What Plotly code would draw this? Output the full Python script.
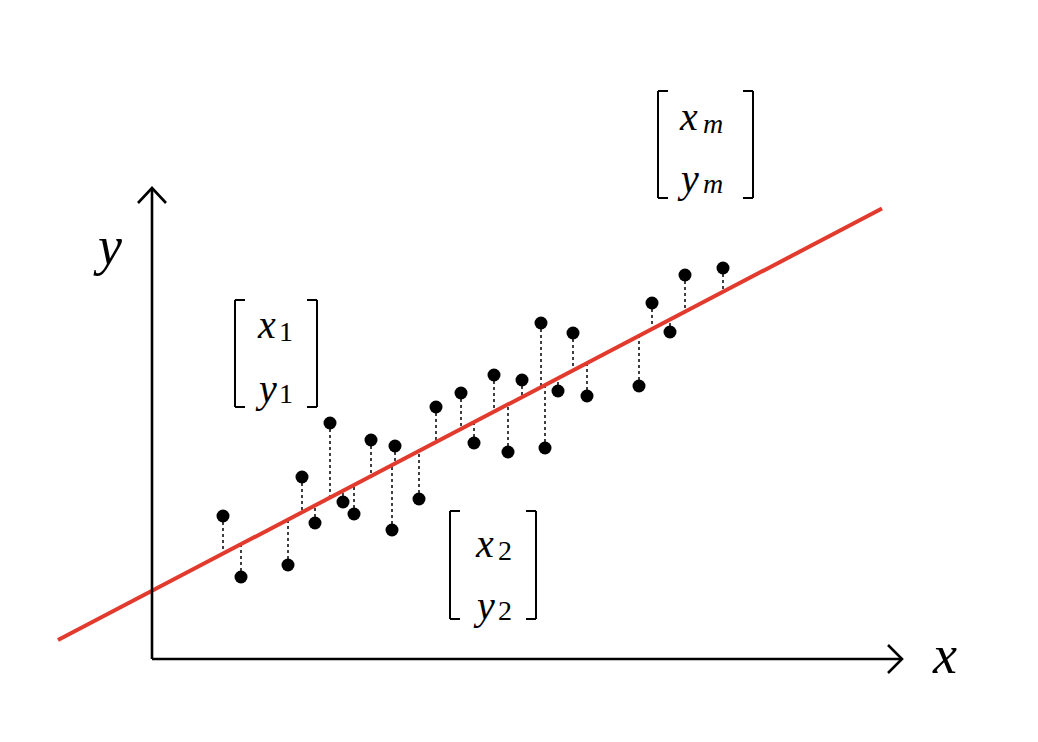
import plotly.graph_objects as go

# Observations (x, y), origin at the axis corner
x_obs = [71, 89, 136, 150, 163, 178, 191, 202, 219, 240, 243, 267, 284, 309,
         322, 342, 356, 370, 389, 393, 406, 421, 435, 487, 500, 518, 533, 571]
y_obs = [143, 82, 94, 182, 136, 236, 157, 145, 219, 129, 213, 160, 252, 266,
         216, 284, 207, 279, 336, 211, 268, 326, 263, 273, 356, 327, 384, 391]

# Fitted line y = a + b x
intercept = 68.2
slope = 0.5236
line_x = [-94, 730]

matrix_labels = [("x", "1", "y", "1"), ("x", "2", "y", "2"), ("x", "m", "y", "m")]

OX, OY = 152, 659
def X(px):
    return px - OX
def Y(py):
    return OY - py

fig = go.Figure()

# residual dotted lines
rx, ry = [], []
for xv, yv in zip(x_obs, y_obs):
    rx += [xv, xv, None]
    ry += [yv, intercept + slope * xv, None]
fig.add_trace(go.Scatter(x=rx, y=ry, mode="lines",
                         line=dict(color="black", width=1.5, dash="dot"),
                         hoverinfo="skip", showlegend=False))

# regression line
fig.add_trace(go.Scatter(x=line_x, y=[intercept + slope * v for v in line_x],
                         mode="lines", line=dict(color="#e23b2e", width=4),
                         hoverinfo="skip", showlegend=False))

# points
fig.add_trace(go.Scatter(x=x_obs, y=y_obs, mode="markers",
                         marker=dict(color="black", size=13),
                         hoverinfo="skip", showlegend=False))

# axes with open arrow heads
ax_style = dict(color="black", width=2.6)
fig.add_trace(go.Scatter(x=[X(152), X(152), None, X(138), X(152), X(166), None,
                            X(152), X(902), None, X(888), X(902), X(888)],
                         y=[Y(659), Y(188), None, Y(203), Y(188), Y(203), None,
                            Y(659), Y(659), None, Y(645), Y(659), Y(673)],
                         mode="lines", line=ax_style, hoverinfo="skip", showlegend=False))

shapes = []
def bracket(x_left, x_right, y_top, y_bot, tick=10):
    s = dict(type="line", xref="x", yref="y", line=dict(color="black", width=2))
    for seg in [(x_left, y_top, x_left, y_bot), (x_left, y_top, x_left + tick, y_top),
                (x_left, y_bot, x_left + tick, y_bot),
                (x_right, y_top, x_right, y_bot), (x_right, y_top, x_right - tick, y_top),
                (x_right, y_bot, x_right - tick, y_bot)]:
        shapes.append(dict(s, x0=X(seg[0]), y0=Y(seg[1]), x1=X(seg[2]), y1=Y(seg[3])))

bracket(235, 317, 300, 407)
bracket(450, 536, 511, 619)
bracket(658, 753, 91, 198)

annotations = []
FONT = "Liberation Serif"
def txt(t, px, py, size, italic=True, xanchor="center"):
    annotations.append(dict(x=X(px), y=Y(py), xref="x", yref="y", showarrow=False,
                            text=f"<i>{t}</i>" if italic else t, xanchor=xanchor,
                            yanchor="middle",
                            font=dict(family=FONT, size=size, color="black")))

centers = [(266, 286, 324, 388), (484, 505, 543, 605), (688, 713, 116, 178)]
for (a, sa, b, sb), (cx, csx, cy1, cy2) in zip(matrix_labels, centers):
    sub_italic = sa.isalpha()
    txt(a, cx, cy1, 40)
    txt(sa, csx, cy1 + 7, 28, italic=sub_italic)
    txt(b, cx, cy2, 40)
    txt(sb, csx, cy2 + 5, 28, italic=sub_italic)

txt("y", 107, 246, 54)
txt("x", 944, 655, 54)

# the page adds an 8 px body margin; shift the view so marks land where intended
PAD = 8
fig.update_layout(
    width=1038, height=742,
    margin=dict(l=0, r=0, t=0, b=0),
    paper_bgcolor="white", plot_bgcolor="white",
    xaxis=dict(range=[X(PAD), X(1038 + PAD)], visible=False, fixedrange=True),
    yaxis=dict(range=[Y(742 + PAD), Y(PAD)], visible=False, fixedrange=True),
    shapes=shapes, annotations=annotations,
)

fig.write_html("out.html")
